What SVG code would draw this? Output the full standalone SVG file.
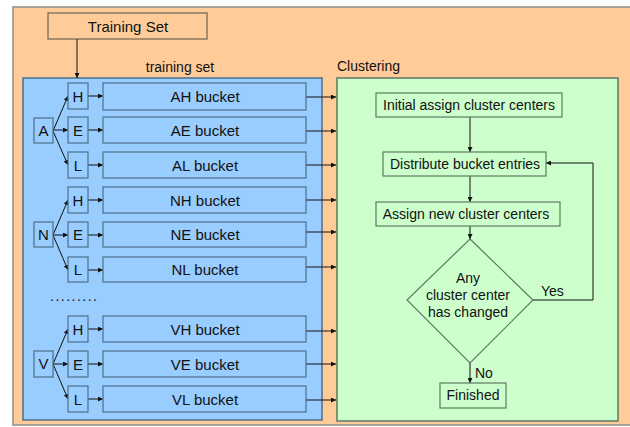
<svg xmlns="http://www.w3.org/2000/svg" width="630" height="427" viewBox="0 0 630 427">
<defs>
<style>
text{font-family:"Liberation Sans",Arial,sans-serif;fill:#111;}
.box{fill:#99CCFF;stroke:#4F6F86;stroke-width:1.2;}
.gbox{fill:#CCFFCC;stroke:#5C7A62;stroke-width:1.2;}
.lbl{font-size:15px;text-anchor:middle;}
.fl{font-size:14px;text-anchor:middle;}
.c{stroke:#111;stroke-width:1;fill:none;}
</style>
<marker id="ah" viewBox="0 0 6 6" refX="6" refY="3" markerWidth="5" markerHeight="5" orient="auto" markerUnits="userSpaceOnUse">
<path d="M0,0 L6,3 L0,6 z" fill="#111"/>
</marker>
</defs>
<rect x="0" y="0" width="630" height="427" fill="#ffffff"/>
<rect id="outer" x="13" y="7" width="625" height="418" fill="#FFCC99" stroke="#8C8C8C" stroke-width="1.5"/>
<g id="training-set">
<rect x="48" y="13" width="159" height="26" fill="#FFCC99" stroke="#6E6256" stroke-width="1.2"/>
<text x="128" y="32" font-size="15" text-anchor="middle">Training Set</text>
</g>
<text x="180" y="72" font-size="14" text-anchor="middle">training set</text>
<text x="337" y="71" font-size="14">Clustering</text>
<g id="blue-panel"><rect x="23" y="78" width="299" height="342" fill="#99CCFF" stroke="#4F6F86" stroke-width="1.5"/></g>
<g id="green-panel"><rect x="337" y="78" width="281" height="343" fill="#CCFFCC" stroke="#5C7A62" stroke-width="1.5"/></g>

<g id="connectors">
<path class="c" d="M77,39 V78" marker-end="url(#ah)"/>
<path class="c" d="M53,131 L68,96" marker-end="url(#ah)"/>
<path class="c" d="M53,130 H68" marker-end="url(#ah)"/>
<path class="c" d="M53,131 L68,165" marker-end="url(#ah)"/>
<path class="c" d="M53,235 L68,200" marker-end="url(#ah)"/>
<path class="c" d="M53,235 H68" marker-end="url(#ah)"/>
<path class="c" d="M53,235 L68,270" marker-end="url(#ah)"/>
<path class="c" d="M53,364 L68,329" marker-end="url(#ah)"/>
<path class="c" d="M53,364 H68" marker-end="url(#ah)"/>
<path class="c" d="M53,364 L68,399" marker-end="url(#ah)"/>
<path class="c" d="M88,96 H103" marker-end="url(#ah)"/>
<path class="c" d="M88,130 H103" marker-end="url(#ah)"/>
<path class="c" d="M88,165 H103" marker-end="url(#ah)"/>
<path class="c" d="M88,200 H103" marker-end="url(#ah)"/>
<path class="c" d="M88,235 H103" marker-end="url(#ah)"/>
<path class="c" d="M88,270 H103" marker-end="url(#ah)"/>
<path class="c" d="M88,329 H103" marker-end="url(#ah)"/>
<path class="c" d="M88,364 H103" marker-end="url(#ah)"/>
<path class="c" d="M88,399 H103" marker-end="url(#ah)"/>
<path class="c" d="M306,97 H336" marker-end="url(#ah)"/>
<path class="c" d="M306,131 H336" marker-end="url(#ah)"/>
<path class="c" d="M306,165 H336" marker-end="url(#ah)"/>
<path class="c" d="M306,200 H336" marker-end="url(#ah)"/>
<path class="c" d="M306,232 H336" marker-end="url(#ah)"/>
<path class="c" d="M306,267 H336" marker-end="url(#ah)"/>
<path class="c" d="M306,331 H336" marker-end="url(#ah)"/>
<path class="c" d="M306,364 H336" marker-end="url(#ah)"/>
<path class="c" d="M306,400 H336" marker-end="url(#ah)"/>
<path class="c" d="M470,117 V152" marker-end="url(#ah)"/>
<path class="c" d="M470,176 V202" marker-end="url(#ah)"/>
<path class="c" d="M470,226 V239" marker-end="url(#ah)"/>
<path class="c" d="M533,300 H593 V163 H546" marker-end="url(#ah)" stroke="#5C7A62"/>
<path class="c" d="M470,363 V383" marker-end="url(#ah)"/>
</g>

<g id="node-A"><rect class="box" x="34" y="118" width="19" height="25"/><text class="lbl" x="43.5" y="136">A</text></g>
<g id="node-N"><rect class="box" x="34" y="222" width="19" height="25"/><text class="lbl" x="43.5" y="240">N</text></g>
<g id="node-V"><rect class="box" x="34" y="351" width="19" height="26"/><text class="lbl" x="43.5" y="369">V</text></g>

<g id="node-AH-l"><rect class="box" x="68" y="83" width="20" height="26"/><text class="lbl" x="78" y="102">H</text></g>
<g id="node-AE-l"><rect class="box" x="68" y="117" width="20" height="26"/><text class="lbl" x="78" y="136">E</text></g>
<g id="node-AL-l"><rect class="box" x="68" y="152" width="20" height="26"/><text class="lbl" x="78" y="171">L</text></g>
<g id="node-NH-l"><rect class="box" x="68" y="187" width="20" height="26"/><text class="lbl" x="78" y="206">H</text></g>
<g id="node-NE-l"><rect class="box" x="68" y="222" width="20" height="25"/><text class="lbl" x="78" y="240">E</text></g>
<g id="node-NL-l"><rect class="box" x="68" y="257" width="20" height="25"/><text class="lbl" x="78" y="275">L</text></g>
<g id="node-VH-l"><rect class="box" x="68" y="316" width="20" height="26"/><text class="lbl" x="78" y="335">H</text></g>
<g id="node-VE-l"><rect class="box" x="68" y="351" width="20" height="26"/><text class="lbl" x="78" y="370">E</text></g>
<g id="node-VL-l"><rect class="box" x="68" y="386" width="20" height="26"/><text class="lbl" x="78" y="405">L</text></g>

<g id="node-AH"><rect class="box" x="103" y="83" width="203" height="27"/><text class="lbl" x="205" y="102">AH bucket</text></g>
<g id="node-AE"><rect class="box" x="103" y="117" width="203" height="26"/><text class="lbl" x="205" y="136">AE bucket</text></g>
<g id="node-AL"><rect class="box" x="103" y="152" width="203" height="26"/><text class="lbl" x="205" y="171">AL bucket</text></g>
<g id="node-NH"><rect class="box" x="103" y="187" width="203" height="26"/><text class="lbl" x="205" y="206">NH bucket</text></g>
<g id="node-NE"><rect class="box" x="103" y="222" width="203" height="25"/><text class="lbl" x="205" y="240">NE bucket</text></g>
<g id="node-NL"><rect class="box" x="103" y="257" width="203" height="25"/><text class="lbl" x="205" y="275">NL bucket</text></g>
<g id="node-VH"><rect class="box" x="103" y="316" width="203" height="26"/><text class="lbl" x="205" y="335">VH bucket</text></g>
<g id="node-VE"><rect class="box" x="103" y="351" width="203" height="26"/><text class="lbl" x="205" y="370">VE bucket</text></g>
<g id="node-VL"><rect class="box" x="103" y="386" width="203" height="26"/><text class="lbl" x="205" y="405">VL bucket</text></g>

<text x="50" y="301" font-size="14" textLength="47" lengthAdjust="spacing">.........</text>

<g id="node-init"><rect class="gbox" x="376" y="93" width="186" height="24"/><text class="fl" x="469" y="110">Initial assign cluster centers</text></g>
<g id="node-distribute"><rect class="gbox" x="383" y="152" width="163" height="24"/><text class="fl" x="465" y="169">Distribute bucket entries</text></g>
<g id="node-assign"><rect class="gbox" x="376" y="202" width="184" height="24"/><text class="fl" x="466" y="219">Assign new cluster centers</text></g>
<g id="node-decision"><path d="M470,239 L533,300 L470,363 L407,300 Z" fill="#CCFFCC" stroke="#5C7A62" stroke-width="1.2"/>
<text class="fl" x="468" y="283">Any</text>
<text class="fl" x="468" y="300">cluster center</text>
<text class="fl" x="468" y="317">has changed</text></g>
<g id="node-finished"><rect class="gbox" x="440" y="383" width="66" height="25"/><text class="fl" x="473" y="400">Finished</text></g>
<text x="541" y="296" font-size="14">Yes</text>
<text x="475" y="378" font-size="14">No</text>
</svg>
